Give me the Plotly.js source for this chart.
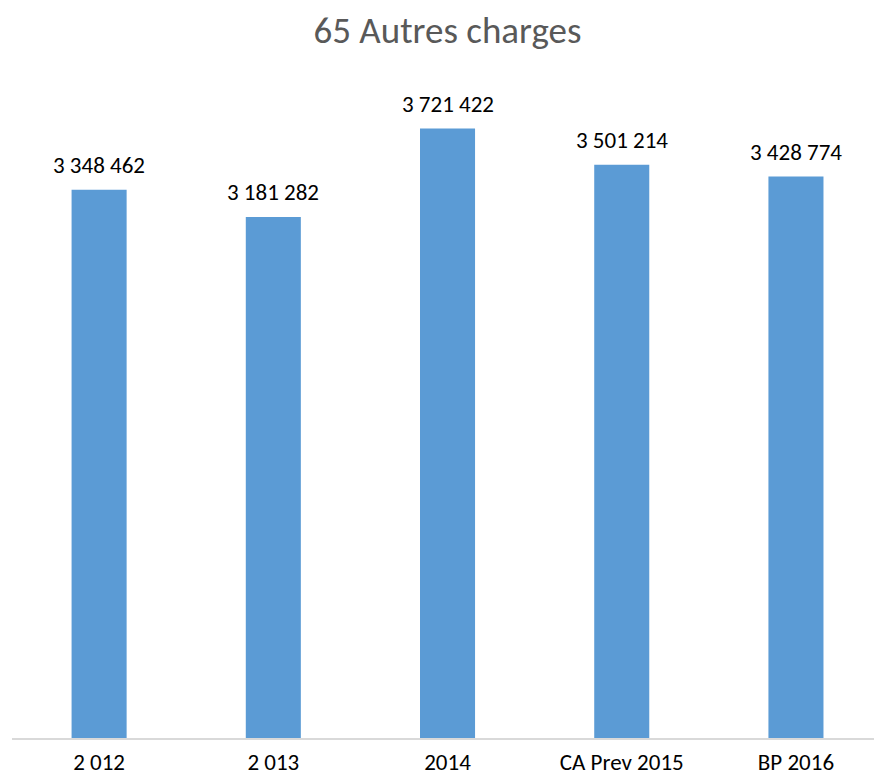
<!DOCTYPE html>
<html>
<head>
<meta charset="utf-8">
<script src="https://cdn.plot.ly/plotly-3.0.1.min.js"></script>
<style>html,body{margin:0;padding:0;background:#fff;}#chart{width:874px;height:778px;}</style>
</head>
<body>
<div id="chart"></div>
<script>
const categories = ["2 012", "2 013", "2014", "CA Prev 2015", "BP 2016"];
const values = [3348462, 3181282, 3721422, 3501214, 3428774];
const valueLabels = ["3 348 462", "3 181 282", "3 721 422", "3 501 214", "3 428 774"];
const chartTitle = "65 Autres charges";

const font = "Calibri, Carlito, 'Open Sans', 'Liberation Sans', sans-serif";

const trace = {
  type: "bar",
  x: categories,
  y: values,
  marker: {color: "#5B9BD5"},
  hoverinfo: "none"
};

const annotations = categories.map((c, i) => ({
  x: i, y: values[i], text: valueLabels[i],
  xref: "x", yref: "y", showarrow: false,
  yanchor: "bottom", yshift: 9,
  font: {family: font, size: 23, color: "#000"}
}));

const layout = {
  width: 874, height: 778,
  margin: {l: 12, r: 0, t: 83, b: 40},
  paper_bgcolor: "#fff", plot_bgcolor: "#fff",
  title: {text: chartTitle, x: 0.512, xanchor: "center", y: 0.962, yanchor: "middle",
          font: {family: font, size: 37, color: "#595959"}},
  bargap: 0.684,
  showlegend: false,
  xaxis: {type: "category", range: [-0.5, 4.448], showline: true, linecolor: "#d9d9d9", linewidth: 2,
          ticks: "", ticklen: 0, ticklabelstandoff: 2, showgrid: false,
          tickfont: {family: font, size: 23, color: "#000"}},
  yaxis: {range: [0, 4000000], visible: false, showgrid: false, zeroline: false},
  annotations: annotations
};

Plotly.newPlot("chart", [trace], layout, {displayModeBar: false, staticPlot: true});
</script>
</body>
</html>
